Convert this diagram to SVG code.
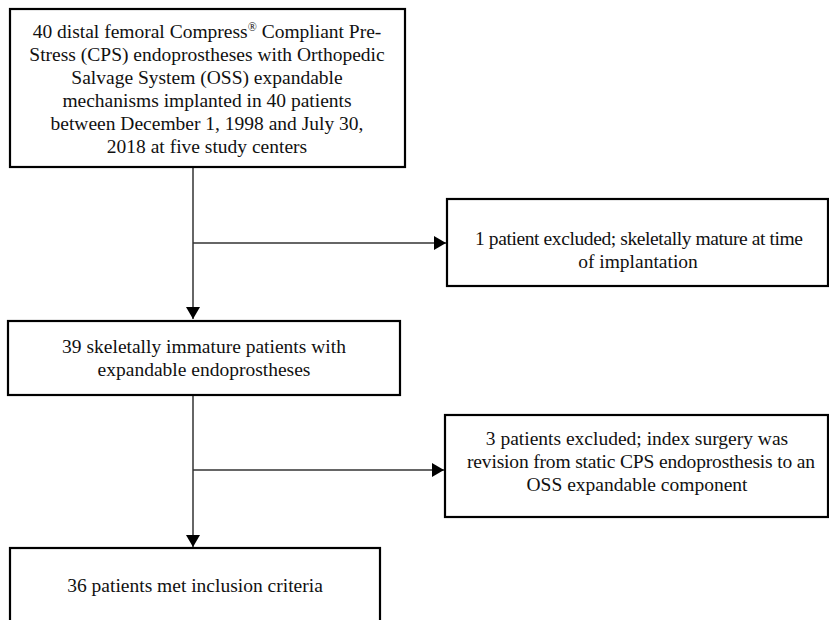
<svg xmlns="http://www.w3.org/2000/svg" width="829" height="620" viewBox="0 0 829 620">
<style>
.box{fill:#fff;stroke:#000;stroke-width:2.2}
.t{font-family:"Liberation Serif","Times New Roman",serif;font-size:19.5px;fill:#111;text-anchor:middle}
.c{fill:none;stroke:#333;stroke-width:1.5}
</style>
<defs>
<marker id="ah" viewBox="0 0 12 14" refX="12" refY="7" markerWidth="12" markerHeight="14" markerUnits="userSpaceOnUse" orient="auto">
<path d="M0,0 L12,7 L0,14 z" fill="#000"/>
</marker>
</defs>
<rect width="829" height="620" fill="#fff"/>
<g id="connectors">
<line class="c" x1="193" y1="168" x2="193" y2="319" marker-end="url(#ah)"/>
<line class="c" x1="193" y1="243" x2="446" y2="243" marker-end="url(#ah)"/>
<line class="c" x1="193" y1="396" x2="193" y2="547" marker-end="url(#ah)"/>
<line class="c" x1="193" y1="470" x2="444" y2="470" marker-end="url(#ah)"/>
</g>
<g id="n1">
<rect class="box" x="10" y="9" width="395" height="158"/>
<text class="t"><tspan x="207" y="38">40 distal femoral Compress<tspan font-size="12" dy="-7">®</tspan><tspan dy="7"> Compliant Pre-</tspan></tspan><tspan x="207" y="61">Stress (CPS) endoprostheses with Orthopedic</tspan><tspan x="207" y="84">Salvage System (OSS) expandable</tspan><tspan x="207" y="107">mechanisms implanted in 40 patients</tspan><tspan x="207" y="130">between December 1, 1998 and July 30,</tspan><tspan x="207" y="153">2018 at five study centers</tspan></text>
</g>
<g id="n2">
<rect class="box" x="447" y="199" width="381" height="87"/>
<text class="t" x="639" y="245" textLength="328" lengthAdjust="spacing">1 patient excluded; skeletally mature at time</text>
<text class="t" x="638" y="268">of implantation</text>
</g>
<g id="n3">
<rect class="box" x="8" y="321" width="392" height="74"/>
<text class="t"><tspan x="204" y="353">39 skeletally immature patients with</tspan><tspan x="204" y="376">expandable endoprostheses</tspan></text>
</g>
<g id="n4">
<rect class="box" x="445" y="415" width="383" height="102"/>
<text class="t" x="637" y="445">3 patients excluded; index surgery was</text>
<text class="t" x="641" y="468" textLength="348" lengthAdjust="spacing">revision from static CPS endoprosthesis to an</text>
<text class="t" x="637" y="491">OSS expandable component</text>
</g>
<g id="n5">
<rect class="box" x="10" y="548" width="370" height="90"/>
<text class="t" x="195" y="592">36 patients met inclusion criteria</text>
</g>
</svg>
